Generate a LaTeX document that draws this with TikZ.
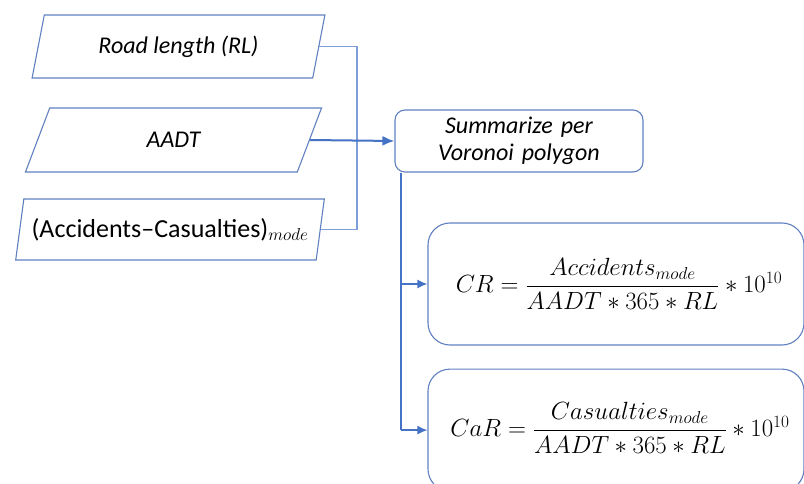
\documentclass[tikz,border=0pt]{standalone}
\usepackage[no-math]{fontspec}
\setmainfont{Carlito}
\usepackage{amsmath}
\usetikzlibrary{shapes.geometric, arrows, arrows.meta, positioning}
\definecolor{edgeblue}{RGB}{96,128,192}
\definecolor{linkblue}{RGB}{125,158,216}
\definecolor{arrowblue}{RGB}{68,114,196}
\tikzstyle{data} = [trapezium, 
			draw = edgeblue, 
			line width = 1.1pt, 
			trapezium left angle = 75, 
			trapezium right angle = 105, 
			trapezium stretches = true, 
			text centered, 
			font = \fontsize{24}{30}\selectfont]
\tikzstyle{block} = [rectangle, 
			draw = edgeblue, 
			line width = 1.1pt, 
			rounded corners = 10pt, 
			text centered, 
			font = \fontsize{24}{27}\selectfont]
\tikzstyle{link} = [draw = linkblue, line width = 1.5pt]
\tikzstyle{feed} = [draw = arrowblue, line width = 2pt, -{Latex[length=12pt, width=10pt]}]
\tikzstyle{rate} = [font = \fontsize{26.5}{30}\selectfont]

\begin{document}
\begin{tikzpicture}[x=1pt, y=-1pt]
	\useasboundingbox (0,0) rectangle (804,484);
	\node [data, minimum width = 293pt, minimum height = 63pt] (rl) at (178.5,46.5) {\itshape Road length (RL)};
	\node [data, minimum width = 297pt, minimum height = 64pt] (aadt) at (173.5,140) {\itshape AADT};
	\node [data, minimum width = 310pt, minimum height = 61pt, font = \fontsize{26}{30}\selectfont] (acc) at (170,229.5) {(Accidents\textendash Casualties)$_{mode}$};
	\node [block, minimum width = 248pt, minimum height = 62pt, text width = 240pt] (summ) at (519,141) {\itshape Summarize per\\ Voronoi polygon};
	\node [block, rounded corners = 22pt, minimum width = 376pt, minimum height = 122pt] (cr) at (616,284) {};
	\node [block, rounded corners = 22pt, minimum width = 376pt, minimum height = 122pt, below = 23pt of cr] (car) {};
	\node [rate] (crf) at (619,284) {$CR = \dfrac{Accidents_{mode}}{AADT \ast 365 \ast RL} \ast 10^{10}$};
	\node [rate] (carf) at (620,428) {$CaR = \dfrac{Casualties_{mode}}{AADT \ast 365 \ast RL} \ast 10^{10}$};
	% inputs joined on the right
	\coordinate (join) at (357,140);
	\draw [link] (rl.east) -| (join) |- (acc.east);
	\draw [feed] (aadt.east) -- (summ.west);
	% branch down to the two rates
	\coordinate (fork) at ([xshift=7pt]summ.south west);
	\draw [feed, -] (fork) -- (fork |- car.west);
	\draw [feed, line width = 1.5pt, -{Latex[length=10pt, width=9pt]}] (fork |- cr.west) -- (cr.west);
	\draw [feed, line width = 1.5pt, -{Latex[length=10pt, width=9pt]}] (fork |- car.west) -- (car.west);
\end{tikzpicture}
\end{document}
